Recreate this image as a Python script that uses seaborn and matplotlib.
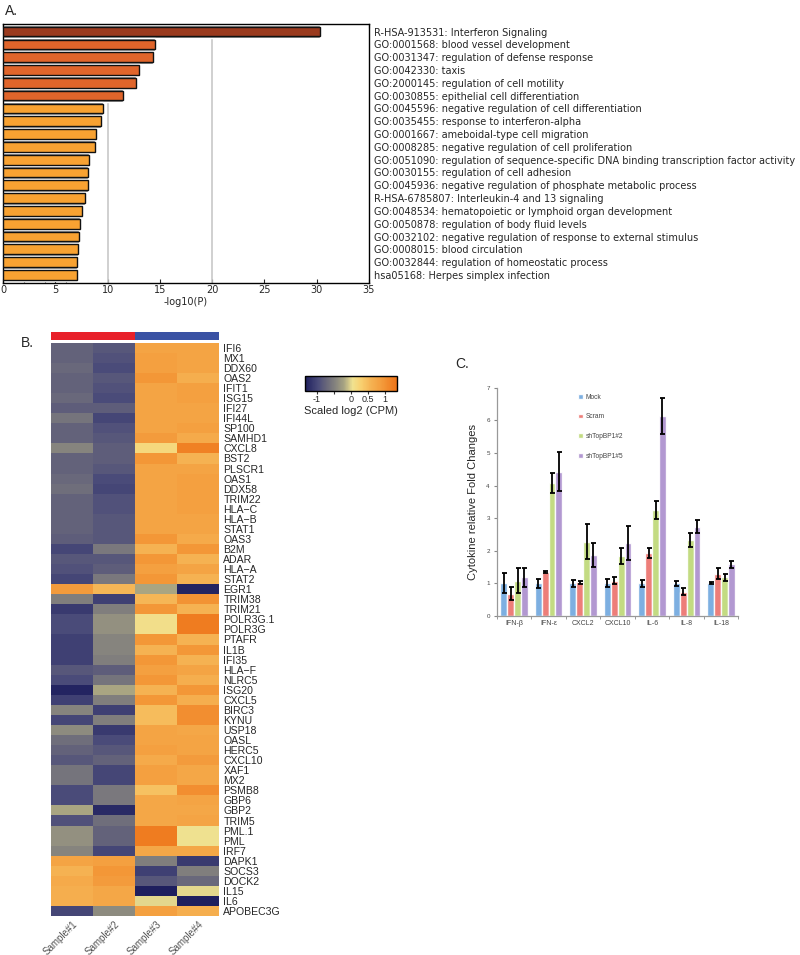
#!/usr/bin/env python3

# ========================================================================
#
# Imports
#
# ========================================================================
import numpy as np
import pandas as pd
import matplotlib as mpl
mpl.use('Agg')
import matplotlib.pyplot as plt
from matplotlib.colors import LinearSegmentedColormap, ListedColormap
import seaborn as sns


# ========================================================================
#
# Data
#
# ========================================================================
# Panel A: enrichment terms
terms = ['R-HSA-913531: Interferon Signaling',
         'GO:0001568: blood vessel development',
         'GO:0031347: regulation of defense response',
         'GO:0042330: taxis',
         'GO:2000145: regulation of cell motility',
         'GO:0030855: epithelial cell differentiation',
         'GO:0045596: negative regulation of cell differentiation',
         'GO:0035455: response to interferon-alpha',
         'GO:0001667: ameboidal-type cell migration',
         'GO:0008285: negative regulation of cell proliferation',
         'GO:0051090: regulation of sequence-specific DNA binding transcription factor activity',
         'GO:0030155: regulation of cell adhesion',
         'GO:0045936: negative regulation of phosphate metabolic process',
         'R-HSA-6785807: Interleukin-4 and 13 signaling',
         'GO:0048534: hematopoietic or lymphoid organ development',
         'GO:0050878: regulation of body fluid levels',
         'GO:0032102: negative regulation of response to external stimulus',
         'GO:0008015: blood circulation',
         'GO:0032844: regulation of homeostatic process',
         'hsa05168: Herpes simplex infection']
log10p = [30.3, 14.5, 14.3, 13.0, 12.7, 11.5, 9.6, 9.4, 8.85, 8.75,
          8.25, 8.15, 8.15, 7.85, 7.5, 7.35, 7.25, 7.2, 7.1, 7.1]

# Panel B: row-scaled expression
genes = ['IFI6', 'MX1', 'DDX60', 'OAS2', 'IFIT1', 'ISG15', 'IFI27', 'IFI44L',
         'SP100', 'SAMHD1', 'CXCL8', 'BST2', 'PLSCR1', 'OAS1', 'DDX58',
         'TRIM22', 'HLA\u2212C', 'HLA\u2212B', 'STAT1', 'OAS3', 'B2M', 'ADAR',
         'HLA\u2212A', 'STAT2', 'EGR1', 'TRIM38', 'TRIM21', 'POLR3G.1',
         'POLR3G', 'PTAFR', 'IL1B', 'IFI35', 'HLA\u2212F', 'NLRC5', 'ISG20',
         'CXCL5', 'BIRC3', 'KYNU', 'USP18', 'OASL', 'HERC5', 'CXCL10', 'XAF1',
         'MX2', 'PSMB8', 'GBP6', 'GBP2', 'TRIM5', 'PML.1', 'PML', 'IRF7',
         'DAPK1', 'SOCS3', 'DOCK2', 'IL15', 'IL6', 'APOBEC3G']
samples = ['Sample#1', 'Sample#2', 'Sample#3', 'Sample#4']
sample_group = [0, 0, 1, 1]
sample1 = [-0.75, -0.75, -0.7, -0.75, -0.75, -0.7, -0.8, -0.6, -0.75, -0.75,
           -0.45, -0.75, -0.75, -0.7, -0.65, -0.75, -0.75, -0.75, -0.75, -0.8,
           -1.0, -0.85, -0.9, -1.0, 0.9, -0.5, -1.1, -0.95, -0.95, -1.05,
           -1.05, -1.05, -0.85, -0.95, -1.3, -1.05, -0.45, -1.0, -0.4, -0.65,
           -0.75, -0.85, -0.6, -0.6, -0.95, -0.95, -0.2, -0.9, -0.35, -0.35,
           -0.45, 0.8, 0.6, 0.7, 0.65, 0.65, -1.0]
sample2 = [-0.85, -0.9, -0.95, -0.85, -0.9, -0.95, -0.8, -1.0, -0.9, -0.85,
           -0.8, -0.8, -0.85, -0.95, -1.0, -0.9, -0.9, -0.85, -0.85, -0.85,
           -0.55, -0.85, -0.8, -0.55, 0.55, -1.05, -0.5, -0.35, -0.35, -0.45,
           -0.45, -0.5, -0.8, -0.6, -0.2, -0.5, -1.05, -0.5, -1.1, -0.95,
           -0.85, -0.75, -1.0, -1.0, -0.55, -0.55, -1.25, -0.65, -0.75, -0.75,
           -1.0, 0.85, 0.95, 0.9, 0.75, 0.75, -0.4]
sample3 = [0.8, 0.85, 0.85, 0.95, 0.8, 0.8, 0.8, 0.8, 0.8, 0.9,
           0.2, 0.95, 0.8, 0.8, 0.8, 0.8, 0.8, 0.8, 0.8, 0.95,
           0.6, 0.95, 0.85, 0.95, -0.2, 0.55, 0.95, 0.1, 0.1, 0.95,
           0.6, 0.95, 0.85, 0.95, 0.6, 0.95, 0.5, 0.5, 0.8, 0.8,
           0.85, 0.7, 0.85, 0.85, 0.45, 0.75, 0.75, 0.75, 1.25, 1.25,
           0.75, -0.5, -1.05, -0.85, -1.4, 0.0, 0.85]
sample4 = [0.8, 0.8, 0.8, 0.65, 0.85, 0.85, 0.8, 0.8, 0.85, 0.7,
           1.2, 0.6, 0.8, 0.85, 0.85, 0.85, 0.85, 0.8, 0.8, 0.7,
           0.95, 0.6, 0.8, 0.6, -1.3, 1.0, 0.6, 1.25, 1.25, 0.6,
           0.95, 0.6, 0.8, 0.65, 0.95, 0.65, 1.05, 1.05, 0.75, 0.8,
           0.8, 0.9, 0.75, 0.75, 1.05, 0.8, 0.75, 0.8, 0.05, 0.05,
           0.75, -1.1, -0.5, -0.7, 0.0, -1.4, 0.65]

# Panel C: cytokine fold changes
cytokines = ['IFN-\u03b2', 'IFN-\u03b5', 'CXCL2', 'CXCL10', 'IL-6', 'IL-8', 'IL-18']
conditions = ['Mock', 'Scram', 'shTopBP1#2', 'shTopBP1#5']
fold_mock = [1.0, 1.0, 1.0, 1.0, 1.0, 1.0, 1.0]
fold_scram = [0.68, 1.35, 1.03, 1.08, 1.94, 0.75, 1.3]
fold_sh2 = [1.08, 4.07, 2.28, 1.83, 3.25, 2.33, 1.18]
fold_sh5 = [1.18, 4.42, 1.87, 2.24, 6.12, 2.73, 1.58]
err_mock = [0.31, 0.13, 0.11, 0.12, 0.1, 0.07, 0.03]
err_scram = [0.2, 0.03, 0.04, 0.1, 0.15, 0.1, 0.18]
err_sh2 = [0.38, 0.3, 0.54, 0.25, 0.28, 0.2, 0.12]
err_sh5 = [0.3, 0.6, 0.38, 0.53, 0.55, 0.2, 0.1]


# ========================================================================
#
# Main
#
# ========================================================================
if __name__ == '__main__':

    sns.set_style('white')
    plt.rcParams['font.family'] = ['DejaVu Sans']
    fig = plt.figure(figsize=(8, 9.55), dpi=100)

    # ========================================================================
    # Panel A
    ax = fig.add_axes([0.004, 0.704, 0.457, 0.271])
    bar_colors = ['#9A3A1E'] + ['#E0652B'] * 5 + ['#F8A232'] * 14
    sns.barplot(x=log10p, y=terms, color='#707070', width=1.0,
                orient='h', ax=ax, zorder=2)
    sns.barplot(x=log10p, y=terms, hue=terms, palette=bar_colors,
                width=0.76, orient='h', legend=False, saturation=1,
                edgecolor='#111111', linewidth=1.0, ax=ax, zorder=3)
    for gx in [2, 4, 6]:
        ax.axvline(gx, color='#999999', lw=0.8, zorder=1)
    for gx in [10, 20]:
        ax.axvline(gx, color='#c8c8c8', lw=1.2, zorder=1)
    ax.set_xlim(0, 35)
    ax.set_ylim(19.6, -0.6)
    ax.set_xticks(np.arange(0, 36, 5))
    ax.yaxis.tick_right()
    ax.tick_params(axis='y', length=0, labelsize=7.0, pad=4)
    ax.tick_params(axis='x', direction='in', top=True, bottom=True,
                   length=3, labelsize=7, pad=2)
    ax.set_xlabel('-log10(P)', fontsize=7, labelpad=1)
    ax.set_ylabel('')
    for s in ax.spines.values():
        s.set_color('black')
        s.set_linewidth(1.0)

    # ========================================================================
    # Panel B
    hm_font = 'Liberation Sans'
    cmap_hm = LinearSegmentedColormap.from_list('hm', [
        (0.0, '#1E1F5E'), (0.148, '#4B4C7A'), (0.222, '#64637A'),
        (0.333, '#86847E'), (0.426, '#A8A482'), (0.519, '#F0E290'),
        (0.611, '#F8D070'), (0.722, '#F5B252'), (0.815, '#F4A040'),
        (1.0, '#EE7418')])
    df_hm = pd.DataFrame({samples[0]: sample1, samples[1]: sample2,
                          samples[2]: sample3, samples[3]: sample4},
                         index=genes)

    ax_ann = fig.add_axes([0.064, 0.644, 0.21, 0.0085])
    sns.heatmap(np.array([sample_group]), cmap=ListedColormap(['#E8202A', '#3A52A4']),
                cbar=False, xticklabels=False, yticklabels=False, ax=ax_ann)

    ax_hm = fig.add_axes([0.064, 0.0408, 0.21, 0.6002])
    ax_cb = fig.add_axes([0.381, 0.5906, 0.115, 0.0157])
    sns.heatmap(df_hm, cmap=cmap_hm, vmin=-1.35, vmax=1.35, ax=ax_hm,
                cbar_ax=ax_cb, xticklabels=samples, yticklabels=genes,
                cbar_kws={'orientation': 'horizontal',
                          'ticks': [-1, -0.5, 0, 0.5, 1]})
    ax_hm.yaxis.tick_right()
    ax_hm.tick_params(axis='y', length=0, pad=3)
    ax_hm.tick_params(axis='x', length=0, pad=2)
    for t in ax_hm.get_yticklabels():
        t.set_rotation(0)
        t.set_fontsize(7.6)
        t.set_family(hm_font)
    for t in ax_hm.get_xticklabels():
        t.set_rotation(45)
        t.set_ha('right')
        t.set_va('top')
        t.set_rotation_mode('anchor')
        t.set_fontsize(7)
        t.set_color('#555555')
        t.set_family(hm_font)

    ax_cb.set_xticklabels(['-1', '', '0', '0.5', '1'])
    ax_cb.tick_params(axis='x', length=2, labelsize=6.5, pad=1, color='#333333')
    for t in ax_cb.get_xticklabels():
        t.set_family(hm_font)
    ax_cb.set_xlabel('Scaled log2 (CPM)', fontsize=8, family=hm_font, labelpad=1)
    cbar = ax_hm.collections[0].colorbar
    cbar.outline.set_visible(True)
    cbar.outline.set_edgecolor('black')
    cbar.outline.set_linewidth(1.0)

    # ========================================================================
    # Panel C
    df_c = pd.DataFrame({
        'cytokine': cytokines * 4,
        'condition': sum([[c] * len(cytokines) for c in conditions], []),
        'fold': fold_mock + fold_scram + fold_sh2 + fold_sh5,
        'err': err_mock + err_scram + err_sh2 + err_sh5})
    pal_c = ['#6FA6DE', '#EC706B', '#BDD875', '#AA8DCC']

    axc = fig.add_axes([0.621, 0.355, 0.302, 0.239])
    sns.barplot(data=df_c, x='cytokine', y='fold', hue='condition',
                palette=pal_c, errorbar=None, width=0.8, saturation=1,
                alpha=0.9, ax=axc)
    for cont, cond in zip(axc.containers, conditions):
        sub = df_c[df_c['condition'] == cond]
        xs = [b.get_x() + b.get_width() / 2 for b in cont]
        axc.errorbar(xs, sub['fold'], yerr=sub['err'], fmt='none',
                     ecolor='black', elinewidth=1.3, capsize=1.8,
                     capthick=1.3, zorder=5)
    axc.set_xlim(-0.5, 6.5)
    axc.set_ylim(0, 7)
    axc.set_yticks(range(0, 8))
    axc.set_xticks(np.arange(-0.5, 7, 1), minor=True)
    axc.tick_params(axis='x', which='major', length=0, labelsize=5,
                    labelcolor='#444444', pad=3)
    axc.tick_params(axis='x', which='minor', length=2, color='#888888',
                    direction='out', bottom=True)
    axc.tick_params(axis='y', length=2, labelsize=4.5, labelcolor='#444444',
                    color='#888888', left=True, direction='out', pad=3)
    for t in axc.get_xticklabels() + axc.get_yticklabels():
        t.set_family(hm_font)
    axc.set_xlabel('')
    axc.set_ylabel('Cytokine relative Fold Changes', fontsize=8,
                   family=hm_font, labelpad=6)
    sns.despine(ax=axc)
    for s in ['left', 'bottom']:
        axc.spines[s].set_color('#999999')
        axc.spines[s].set_linewidth(0.9)
    leg = axc.legend(loc='upper left', bbox_to_anchor=(0.31, 1.0),
                     frameon=False, fontsize=4.8, labelspacing=1.9,
                     handlelength=0.8, handleheight=0.7, handletextpad=0.4)
    for t in leg.get_texts():
        t.set_color('#444444')
        t.set_family(hm_font)

    # ========================================================================
    # Panel letters
    fig.text(0.006, 0.988, 'A.', fontsize=10, family=hm_font, va='center')
    fig.text(0.026, 0.641, 'B.', fontsize=10, family=hm_font, va='center')
    fig.text(0.569, 0.619, 'C.', fontsize=10, family=hm_font, va='center')

    fig.savefig('out.png', dpi=100)
